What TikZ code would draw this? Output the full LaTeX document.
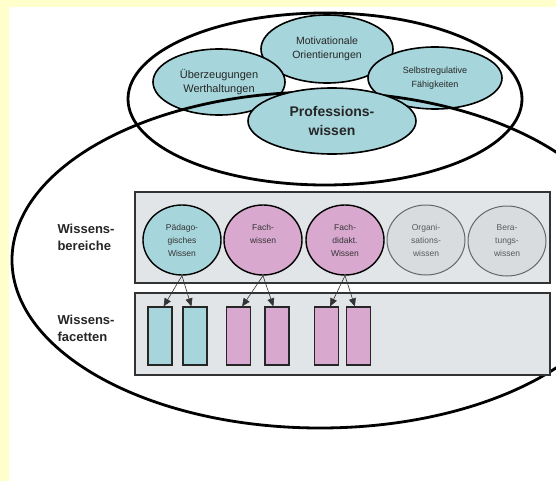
\documentclass[tikz,border=0pt]{standalone}
\usepackage{fontspec}
\setmainfont{Liberation Sans}
\usetikzlibrary{arrows.meta, shapes.geometric}

\definecolor{bgyellow}{HTML}{FFFFCC}
\definecolor{tealfill}{HTML}{A6D6DB}
\definecolor{pinkfill}{HTML}{D9A8CF}
\definecolor{greyfill}{HTML}{D9DCDE}
\definecolor{boxfill}{HTML}{E2E5E8}

\begin{document}
\begin{tikzpicture}[x=1pt, y=-1pt,
        thickline/.style={line width=2.8pt, black},
        topbubble/.style={ellipse, draw=black, line width=1.6pt, fill=tealfill, inner sep=0pt, align=center, text=black!85},
        areacircle/.style={ellipse, draw=black, line width=1.4pt, inner sep=0pt, minimum width=78, minimum height=70, align=center, font=\fontsize{8.5}{13}\selectfont, text=black!80},
        greycircle/.style={areacircle, fill=greyfill, draw=black!60, line width=1pt, text=black!65},
        facetbar/.style={rectangle, draw=black!85, line width=1.2pt, inner sep=0pt, minimum width=24, minimum height=58},
        areabox/.style={draw=black!80, line width=1.8pt, fill=boxfill},
        sidelabel/.style={anchor=west, align=left, font=\fontsize{13}{17}\selectfont\bfseries, text=black!85},
        facetarrow/.style={-{Triangle[length=8pt,width=7pt]}, line width=0.6pt, black!80}
    ]
        \useasboundingbox (0,0) rectangle (556,481);
        \fill[bgyellow] (0,0) rectangle (556,481);
        \fill[white] (9,7) rectangle (556,481);
        \clip (0,0) rectangle (556,481);

        \draw[thickline] (325,99) ellipse [x radius=197, y radius=86];

        \node[topbubble, minimum width=132, minimum height=68, font=\fontsize{10.5}{14}\selectfont] (motiv) at (327,49) {Motivationale\\Orientierungen};
        \node[topbubble, minimum width=132, minimum height=66, font=\fontsize{11}{13.5}\selectfont] (ueberz) at (219,82) {Überzeugungen\\Werthaltungen};
        \node[topbubble, minimum width=134, minimum height=62, font=\fontsize{9}{13.5}\selectfont] (selbst) at (435,78) {Selbstregulative\\Fähigkeiten};

        \draw[thickline] (320,260) ellipse [x radius=308, y radius=168];

        \node[topbubble, minimum width=168, minimum height=66, font=\fontsize{14}{19}\selectfont\bfseries] (prof) at (332,121) {Professions-\\wissen};

        \filldraw[areabox] (135,192) rectangle (550,283);
        \filldraw[areabox] (135,293) rectangle (550,375);

        \node[sidelabel] (bereiche) at (54,237) {Wissens-\\bereiche};
        \node[sidelabel] (facetten) at (54,328) {Wissens-\\facetten};

        \node[areacircle, fill=tealfill] (paed) at (182,240) {Pädago-\\gisches\\Wissen};
        \node[areacircle, fill=pinkfill] (fach) at (263,240) {Fach-\\wissen\\\mbox{}};
        \node[areacircle, fill=pinkfill] (didakt) at (345,240) {Fach-\\didakt.\\Wissen};
        \node[greycircle] (organ) at (426,240) {Organi-\\sations-\\wissen};
        \node[greycircle] (berat) at (507,241) {Bera-\\tungs-\\wissen};

        \node[facetbar, fill=tealfill] (pf1) at (160,336) {};
        \node[facetbar, fill=tealfill] (pf2) at (195,336) {};
        \node[facetbar, fill=pinkfill] (ff1) at (238.5,336) {};
        \node[facetbar, fill=pinkfill] (ff2) at (277,336) {};
        \node[facetbar, fill=pinkfill] (df1) at (326.5,336) {};
        \node[facetbar, fill=pinkfill] (df2) at (358.5,336) {};

        \draw[facetarrow] (paed.south) -- (pf1.83);
        \draw[facetarrow] (paed.south) -- (pf2.97);
        \draw[facetarrow] (fach.south) -- (ff1.83);
        \draw[facetarrow] (fach.south) -- (ff2.97);
        \draw[facetarrow] (didakt.south) -- (df1.83);
        \draw[facetarrow] (didakt.south) -- (df2.97);
    \end{tikzpicture}
\end{document}
